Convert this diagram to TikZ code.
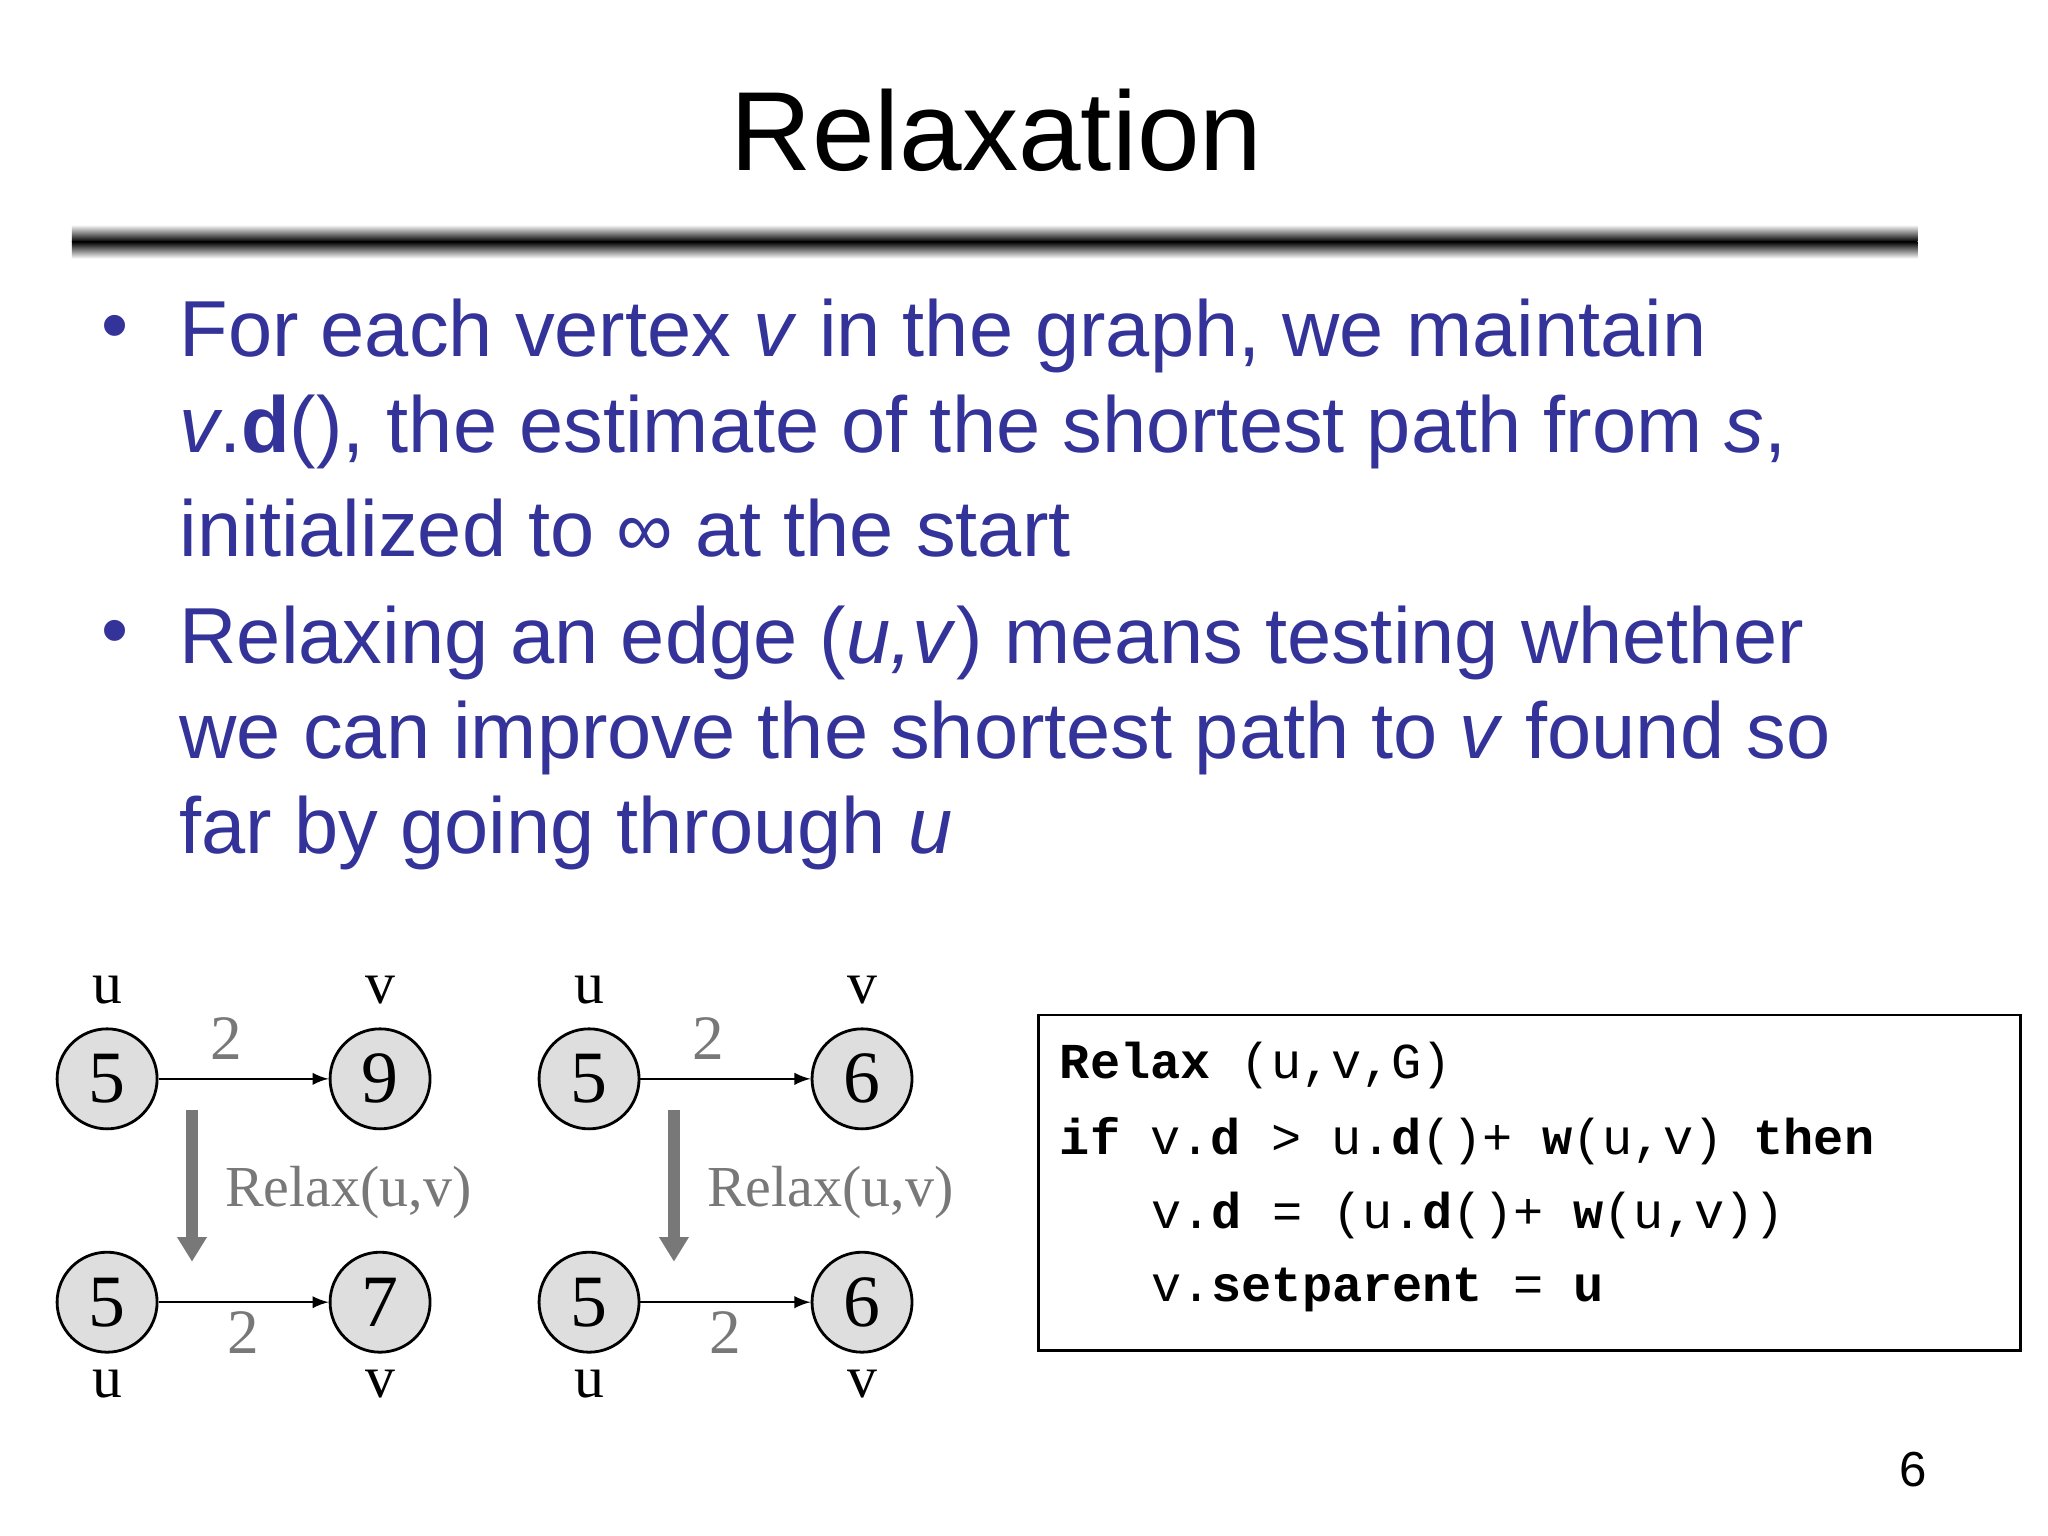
\documentclass[tikz,border=0pt]{standalone}
\usepackage{fontspec}
\usetikzlibrary{arrows.meta}
\setmainfont{Liberation Sans}
\newfontfamily\serifB{Liberation Serif}
\newfontfamily\monoB{Liberation Mono}
\definecolor{txtblue}{RGB}{51,51,153}
\definecolor{nodegray}{RGB}{222,222,222}
\definecolor{lblgray}{RGB}{120,120,120}
\begin{document}
\begin{tikzpicture}[x=0.01306cm,y=-0.01306cm,
  vert/.style={circle,draw=black,fill=nodegray,line width=0.8pt,minimum size=1.0cm,inner sep=0pt,font=\serifB\fontsize{21}{21}\selectfont},
  vlab/.style={font=\serifB\fontsize{17}{17}\selectfont},
  wlab/.style={font=\serifB\fontsize{16.5}{16.5}\selectfont,text=lblgray},
  edge/.style={-latex,line width=0.6pt},
  relarrow/.style={-{Triangle[width=8pt,length=7pt]},line width=3.5pt,draw=lblgray},
  line/.style={anchor=west,text=txtblue,font=\fontsize{22.6}{22.6}\selectfont},
  code/.style={anchor=west,font=\monoB\fontsize{14.3}{14.3}\selectfont}]
\useasboundingbox (0,0) rectangle (1568,1176);
\fill[white] (0,0) rectangle (1568,1176);
\node[font=\fontsize{32}{32}\selectfont] (title) at (763,100) {Relaxation};
\shade[top color=white,bottom color=black] (55,172) rectangle (1468,185);
\shade[top color=black,bottom color=white] (55,185) rectangle (1468,198);
% bullets
\node[text=txtblue,font=\fontsize{22}{22}\selectfont] (b1) at (88,255) {•};
\node[text=txtblue,font=\fontsize{22}{22}\selectfont] (b2) at (88,489) {•};
\node[line] (l1) at (128,257) {For each vertex \textit{v} in the graph, we maintain};
\node[line] (l2) at (128,331) {\textit{v}.\textbf{d}(), the estimate of the shortest path from \textit{s},};
\node[line] (l3) at (128,404) {initialized to ∞ at the start};
\node[line] (l4) at (128,492) {Relaxing an edge (\textit{u,v}) means testing whether};
\node[line] (l5) at (128,565) {we can improve the shortest path to \textit{v} found so};
\node[line] (l6) at (128,638) {far by going through \textit{u}};
% graphs
\foreach \dx/\pre/\tv/\bv in {0/A/9/7,369/B/6/6}{
  \node[vert] (\pre tu) at (82+\dx,826) {5};
  \node[vert] (\pre tv) at (291+\dx,826) {\tv};
  \node[vert] (\pre bu) at (82+\dx,997) {5};
  \node[vert] (\pre bv) at (291+\dx,997) {\bv};
  \draw[edge] (\pre tu) -- (\pre tv);
  \draw[edge] (\pre bu) -- (\pre bv);
  \node[vlab] (\pre lu1) at (82+\dx,758) {u};
  \node[vlab] (\pre lv1) at (291+\dx,758) {v};
  \node[vlab] (\pre lu2) at (82+\dx,1060) {u};
  \node[vlab] (\pre lv2) at (291+\dx,1060) {v};
  \node[wlab,font=\serifB\fontsize{18}{18}\selectfont] (\pre w1) at (173+\dx,795) {2};
  \node[wlab,font=\serifB\fontsize{18}{18}\selectfont] (\pre w2) at (186+\dx,1020) {2};
  \coordinate (\pre a1) at (147+\dx,850);
  \coordinate (\pre a2) at (147+\dx,966);
  \draw[relarrow] (\pre a1) -- (\pre a2);
  \node[wlab,anchor=west] (\pre rl) at (163+\dx,913) {Relax(u,v)};
}
% code box
\node[draw=black,line width=0.8pt,minimum width=752*0.01306cm,minimum height=257*0.01306cm,anchor=north west] (box) at (794,776) {};
\node[code] (c1) at (802,816) {\textbf{Relax} (u,v,G)};
\node[code] (c2) at (802,874) {\textbf{if} v.\textbf{d} > u.\textbf{d}()+ \textbf{w}(u,v)  \textbf{then}};
\node[code] (c3) at (872,931) {v.\textbf{d} = (u.\textbf{d}()+ \textbf{w}(u,v))};
\node[code] (c4) at (872,988) {v.\textbf{setparent} = \textbf{u}};
\node[font=\fontsize{14}{14}\selectfont] (pg) at (1465,1125) {6};
\end{tikzpicture}
\end{document}
